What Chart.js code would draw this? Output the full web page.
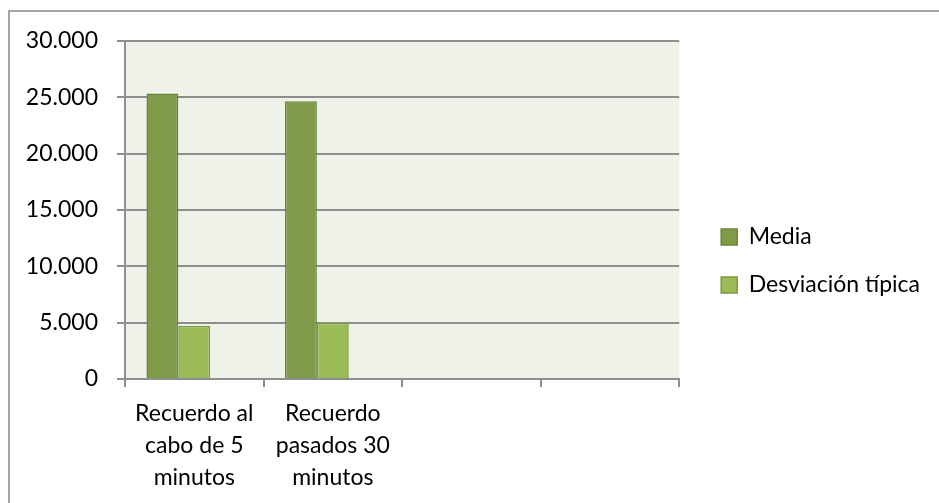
<!DOCTYPE html>
<html>
<head>
<meta charset="utf-8">
<script src="https://cdn.jsdelivr.net/npm/chart.js@4/dist/chart.umd.min.js"></script>
<style>
html, body { margin: 0; background: #fff; overflow: hidden; }
#frame { position: absolute; left: 8px; top: 10px; width: 1000px; height: 600px;
  border-top: 2px solid #a5a5a5; border-left: 2px solid #a5a5a5; }
#graph { position: absolute; left: 0; top: 0; }
</style>
</head>
<body>
<div id="frame"></div>
<canvas id="graph" width="939" height="503"></canvas>
<script>
// data
const categories = [['Recuerdo al', 'cabo de 5', 'minutos'], ['Recuerdo', 'pasados 30', 'minutos'], '', ''];
const media = [25350, 24650, null, null];
const desviacion = [4700, 5000, null, null];
const empty = [null, null, null, null]; // third (empty) series slot as in the original sheet
const yMin = 0;
const yMax = 30000;
const yStep = 5000;

const font = { family: 'Lato', size: 23 };
const gridColor = '#8e8e8e';

const plotBg = {
    id: 'plotBg',
    beforeDraw(chart) {
        const { ctx, chartArea: a } = chart;
        ctx.save();
        ctx.fillStyle = '#eff2e9';
        ctx.fillRect(a.left, a.top, a.right - a.left, a.bottom - a.top);
        ctx.restore();
    }
};

function fmt(v) {
    return String(v).replace(/\B(?=(\d{3})+(?!\d))/g, '.');
}

// invisible spacer axes, only used to push the plot area around
function spacer(position, size) {
    return {
        type: 'linear',
        position: position,
        grid: { display: false },
        border: { display: false },
        ticks: { display: false },
        afterFit(scale) {
            if (scale.isHorizontal()) scale.height = size;
            else scale.width = size;
        },
    };
}

const ctx = document.getElementById('graph').getContext('2d');

const chart = new Chart(ctx, {
    type: 'bar',
    data: {
        labels: categories,
        datasets: [{
            label: 'Media',
            data: media,
            backgroundColor: '#7f9a49',
            borderColor: '#6a853a',
            borderWidth: 1.5,
        }, {
            label: 'Desviación típica',
            data: desviacion,
            backgroundColor: '#9bbb59',
            borderColor: '#7d9b3e',
            borderWidth: 1.5,
        }, {
            label: '',
            data: empty,
        }],
    },
    options: {
        responsive: false,
        animation: false,
        categoryPercentage: 0.69,
        barPercentage: 1,
        layout: {
            padding: { top: 32, left: 0, bottom: 13, right: 9 },
        },
        plugins: {
            legend: {
                position: 'right',
                align: 'center',
                maxWidth: 400,
                labels: {
                    font: font,
                    color: '#000',
                    boxWidth: 16,
                    boxHeight: 16,
                    padding: 25,
                    filter: item => item.text !== '',
                },
            },
            tooltip: { enabled: false },
        },
        scales: {
            x: {
                grid: {
                    drawOnChartArea: false,
                    drawTicks: true,
                    tickLength: 8,
                    color: gridColor,
                    lineWidth: 2,
                },
                border: { color: gridColor, width: 2 },
                ticks: {
                    font: { family: 'Lato', size: 23, lineHeight: 1.39 },
                    color: '#000',
                    padding: 11,
                    maxRotation: 0,
                    autoSkip: false,
                },
                afterFit(scale) { scale.height = 111; },
            },
            y: {
                min: yMin,
                max: yMax,
                ticks: {
                    stepSize: yStep,
                    font: font,
                    color: '#000',
                    padding: 19,
                    callback: v => fmt(v),
                },
                grid: {
                    color: gridColor,
                    lineWidth: 2,
                    tickLength: 8,
                },
                border: { color: gridColor, width: 2 },
                afterFit(scale) { scale.width = 125; },
            },
            gapRight: spacer('right', 17),
            gapTop: spacer('top', 9),
        },
    },
    plugins: [plotBg],
});
</script>
</body>
</html>
